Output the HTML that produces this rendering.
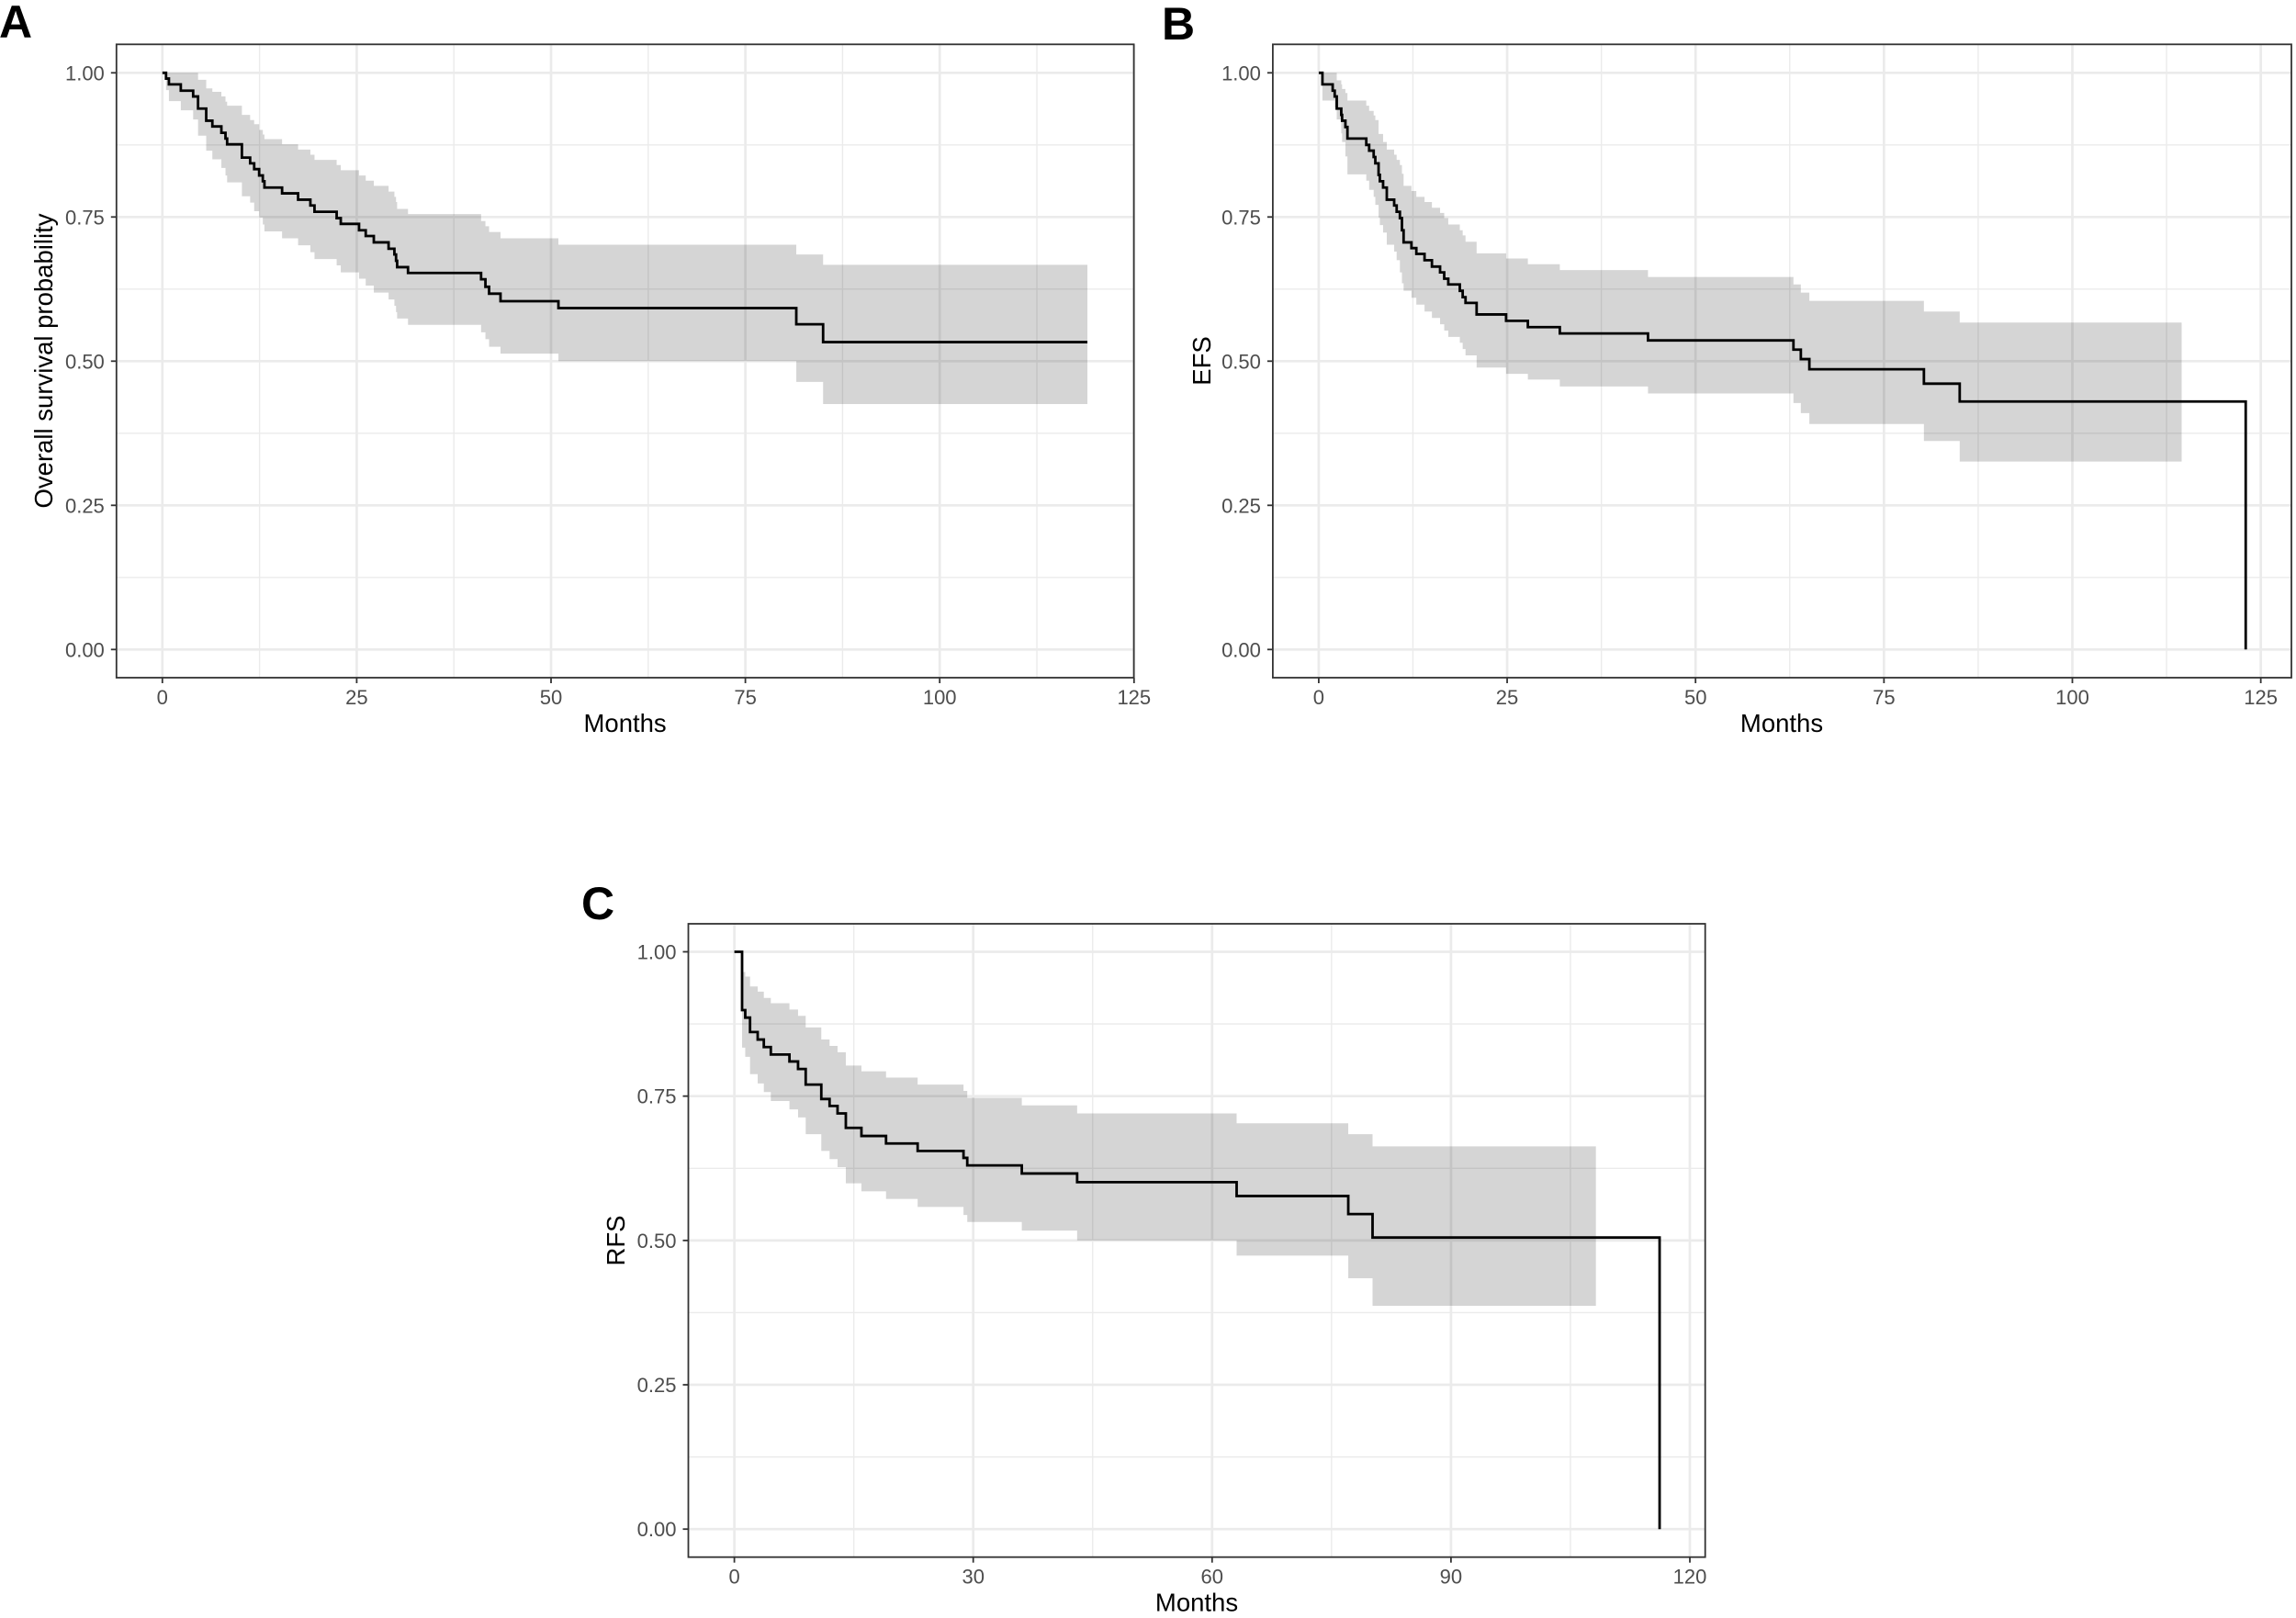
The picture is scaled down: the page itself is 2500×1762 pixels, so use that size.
<!DOCTYPE html>
<html lang="en">
<head>
<meta charset="utf-8">
<title>Kaplan-Meier survival curves</title>
<style>
html,body{margin:0;padding:0;background:#fff;}
svg{display:block;font-family:"Liberation Sans",Arial,sans-serif;}
.panel-letter{font-size:50px;font-weight:bold;fill:#000;}
.axis-title{font-size:27.5px;fill:#000;}
.tick-label{font-size:22px;fill:#4d4d4d;}
</style>
</head>
<body>
<svg id="figure" width="2500" height="1762" viewBox="0 0 2500 1762" xmlns="http://www.w3.org/2000/svg">
  <rect x="0" y="0" width="2500" height="1762" fill="#ffffff"/>

  <g id="panel-a"></g>
  <text class="panel-letter" x="-1" y="41">A</text>
  <text class="axis-title" transform="translate(57,393) rotate(-90)" text-anchor="middle">Overall survival probability</text>
  <text class="axis-title" x="680.6" y="797" text-anchor="middle">Months</text>

  <g id="panel-b"></g>
  <text class="panel-letter" x="1265" y="43">B</text>
  <text class="axis-title" transform="translate(1318,393) rotate(-90)" text-anchor="middle">EFS</text>
  <text class="axis-title" x="1940" y="797" text-anchor="middle">Months</text>

  <g id="panel-c"></g>
  <text class="panel-letter" x="633" y="1001">C</text>
  <text class="axis-title" transform="translate(680,1351) rotate(-90)" text-anchor="middle">RFS</text>
  <text class="axis-title" x="1303" y="1754.5" text-anchor="middle">Months</text>
</svg>

<script>
// ---------- Panel A: overall survival ----------
var aMonths = [0,0.47,0.84,2.37,3.96,4.59,5.64,6.43,7.59,8.12,8.33,10.23,11.29,11.81,12.45,12.92,13.13,15.4,17.46,19.04,19.57,22.42,22.95,25.3,26.16,27.2,29.1,29.85,30.06,30.2,31.6,41,41.56,42.03,43.5,50.95,81.55,85,119];
var aSurv = [1,0.990,0.980,0.969,0.959,0.938,0.917,0.907,0.896,0.886,0.876,0.853,0.843,0.833,0.822,0.812,0.801,0.791,0.780,0.770,0.759,0.748,0.738,0.727,0.717,0.706,0.695,0.685,0.674,0.663,0.653,0.642,0.629,0.617,0.604,0.592,0.564,0.533,0.533];
var aUpper = [1,1,1,1,1,0.988,0.973,0.967,0.959,0.950,0.943,0.927,0.918,0.911,0.901,0.893,0.885,0.876,0.867,0.858,0.849,0.840,0.831,0.822,0.813,0.804,0.794,0.785,0.776,0.764,0.755,0.743,0.734,0.724,0.713,0.702,0.685,0.667];
var aLower = [1,0.970,0.951,0.935,0.919,0.891,0.865,0.850,0.835,0.822,0.810,0.786,0.775,0.760,0.749,0.737,0.725,0.713,0.701,0.689,0.677,0.666,0.654,0.643,0.631,0.619,0.607,0.596,0.585,0.574,0.563,0.550,0.538,0.525,0.513,0.500,0.464,0.4256];
var aBandEnd = 119;
var aXTicks = [0,25,50,75,100,125];
var aXMinor = [12.5,37.5,62.5,87.5,112.5];

// ---------- Panel B: EFS ----------
var bMonths = [0,0.49,1.85,2.12,2.39,2.99,3.10,3.54,3.81,6.31,6.69,7.29,7.51,7.94,8.11,8.54,9.03,10.01,10.34,10.77,11.04,11.26,12.30,12.95,14.04,15.02,16.10,16.65,17.19,18.72,19.10,19.48,20.95,24.86,27.75,31.99,43.69,62.99,63.97,65.1,80.3,85.05,123];
var bSurv = [1,0.980,0.969,0.959,0.938,0.927,0.917,0.906,0.886,0.875,0.865,0.854,0.843,0.823,0.812,0.801,0.780,0.770,0.759,0.748,0.727,0.706,0.696,0.686,0.675,0.664,0.654,0.643,0.633,0.622,0.611,0.601,0.581,0.570,0.559,0.548,0.536,0.520,0.5036,0.486,0.461,0.430,0];
var bUpper = [1,1,1,1,0.987,0.980,0.972,0.965,0.952,0.943,0.934,0.926,0.918,0.894,0.894,0.880,0.867,0.858,0.849,0.840,0.825,0.804,0.795,0.785,0.776,0.766,0.757,0.748,0.737,0.727,0.718,0.707,0.687,0.678,0.668,0.658,0.646,0.633,0.619,0.6045,0.586,0.567];
var bLower = [1,0.952,0.952,0.940,0.919,0.895,0.880,0.855,0.824,0.813,0.797,0.785,0.771,0.749,0.736,0.723,0.702,0.690,0.675,0.654,0.635,0.622,0.610,0.598,0.586,0.575,0.564,0.553,0.542,0.532,0.521,0.510,0.489,0.478,0.468,0.456,0.444,0.4275,0.410,0.391,0.3615,0.326];
var bBandEnd = 114.5;
var bXTicks = [0,25,50,75,100,125];
var bXMinor = [12.5,37.5,62.5,87.5,112.5];

// ---------- Panel C: RFS ----------
var cMonths = [0,0.97,1.37,1.97,2.93,3.7,4.58,6.92,8.0,8.96,10.92,11.96,12.96,14.0,15.96,19.05,23.02,28.78,29.25,36.1,43.05,63.08,77.1,80.15,116.2];
var cSurv = [1,0.899,0.886,0.861,0.848,0.835,0.822,0.810,0.797,0.770,0.745,0.733,0.720,0.695,0.681,0.668,0.655,0.643,0.630,0.616,0.601,0.577,0.5457,0.505,0];
var cUpper = [1,0.965,0.957,0.940,0.931,0.920,0.911,0.900,0.889,0.869,0.848,0.837,0.826,0.803,0.793,0.782,0.770,0.759,0.747,0.734,0.720,0.703,0.684,0.663];
var cLower = [1,0.834,0.818,0.788,0.772,0.757,0.7415,0.727,0.713,0.684,0.655,0.641,0.627,0.599,0.585,0.572,0.558,0.544,0.532,0.517,0.500,0.4737,0.4345,0.3868];
var cBandEnd = 108.2;
var cXTicks = [0,30,60,90,120];
var cXMinor = [15,45,75,105];

// ---------- Shared y axis ----------
var yTicks = [0,0.25,0.5,0.75,1];
var yTickLabels = ['0.00','0.25','0.50','0.75','1.00'];
var yMinor = [0.125,0.375,0.625,0.875];

var SVGNS = 'http://www.w3.org/2000/svg';

function mk(parent, tag, attrs) {
  var el = document.createElementNS(SVGNS, tag);
  for (var k in attrs) { el.setAttribute(k, attrs[k]); }
  parent.appendChild(el);
  return el;
}

function drawPanel(cfg) {
  var root = document.getElementById(cfg.id);
  var L = cfg.left, R = cfg.right, T = cfg.top, B = cfg.bottom;
  function xs(t) { return cfg.x0 + t * cfg.pxPerMonth; }
  function ys(v) { return cfg.y0 - v * cfg.pxPerUnit; }
  var el, i;

  // panel background
  el = mk(root, 'rect', {x:L, y:T, width:R-L, height:B-T, fill:'#ffffff'});
  
  

  // grid: minor then major
  cfg.xMinor.forEach(function (t) {
    var g = mk(root, 'line', {x1:xs(t), x2:xs(t), y1:T, y2:B, stroke:'#ebebeb', 'stroke-width':1.4});
    
    
  });
  yMinor.forEach(function (v) {
    var g = mk(root, 'line', {x1:L, x2:R, y1:ys(v), y2:ys(v), stroke:'#ebebeb', 'stroke-width':1.4});
    
    
  });
  cfg.xTicks.forEach(function (t) {
    var g = mk(root, 'line', {x1:xs(t), x2:xs(t), y1:T, y2:B, stroke:'#ebebeb', 'stroke-width':2.7});
    
    
  });
  yTicks.forEach(function (v) {
    var g = mk(root, 'line', {x1:L, x2:R, y1:ys(v), y2:ys(v), stroke:'#ebebeb', 'stroke-width':2.7});
    
    
  });

  // confidence band from the step arrays
  var top = [], bot = [];
  for (i = 0; i < cfg.upper.length; i++) {
    var x1 = xs(cfg.months[i]);
    var x2 = xs(i + 1 < cfg.upper.length ? cfg.months[i + 1] : cfg.bandEnd);
    top.push(x1 + ',' + ys(cfg.upper[i]));
    top.push(x2 + ',' + ys(cfg.upper[i]));
    bot.unshift(x1 + ',' + ys(cfg.lower[i]));
    bot.unshift(x2 + ',' + ys(cfg.lower[i]));
  }
  el = mk(root, 'polygon', {points: top.concat(bot).join(' '), fill:'#000000', 'fill-opacity':0.165});
  
  

  // survival step line
  var d = 'M' + xs(cfg.months[0]) + ' ' + ys(cfg.surv[0]);
  for (i = 1; i < cfg.months.length; i++) {
    d += 'H' + xs(cfg.months[i]) + 'V' + ys(cfg.surv[i]);
  }
  el = mk(root, 'path', {d:d, fill:'none', stroke:'#000000', 'stroke-width':2.8, 'stroke-linejoin':'miter'});
  
  

  // panel border
  el = mk(root, 'rect', {x:L, y:T, width:R-L, height:B-T, fill:'none', stroke:'#333333', 'stroke-width':1.8});
  
  

  // x ticks and labels
  cfg.xTicks.forEach(function (t) {
    var k = mk(root, 'line', {x1:xs(t), x2:xs(t), y1:B, y2:B+6, stroke:'#333333', 'stroke-width':1.8});
    
    
    var lab = mk(root, 'text', {x:xs(t), y:B+29, 'text-anchor':'middle', 'class':'tick-label'});
    
    
    lab.textContent = String(t);
  });

  // y ticks and labels
  yTicks.forEach(function (v, idx) {
    var k = mk(root, 'line', {x1:L-6, x2:L, y1:ys(v), y2:ys(v), stroke:'#333333', 'stroke-width':1.8});
    
    
    var lab = mk(root, 'text', {x:L-13, y:ys(v)+8, 'text-anchor':'end', 'class':'tick-label'});
    
    
    lab.textContent = yTickLabels[idx];
  });
}

drawPanel({id:'panel-a', left:126.8, right:1234.6, top:48.3, bottom:738,
  x0:176.8, pxPerMonth:8.464, y0:707.3, pxPerUnit:628,
  months:aMonths, surv:aSurv, upper:aUpper, lower:aLower, bandEnd:aBandEnd,
  xTicks:aXTicks, xMinor:aXMinor});

drawPanel({id:'panel-b', left:1385.9, right:2495, top:48.3, bottom:738,
  x0:1435.9, pxPerMonth:8.206, y0:707.3, pxPerUnit:628,
  months:bMonths, surv:bSurv, upper:bUpper, lower:bLower, bandEnd:bBandEnd,
  xTicks:bXTicks, xMinor:bXMinor});

drawPanel({id:'panel-c', left:749.5, right:1856.7, top:1006, bottom:1695.7,
  x0:799.6, pxPerMonth:8.67, y0:1665.2, pxPerUnit:628.7,
  months:cMonths, surv:cSurv, upper:cUpper, lower:cLower, bandEnd:cBandEnd,
  xTicks:cXTicks, xMinor:cXMinor});
</script>
</body>
</html>
